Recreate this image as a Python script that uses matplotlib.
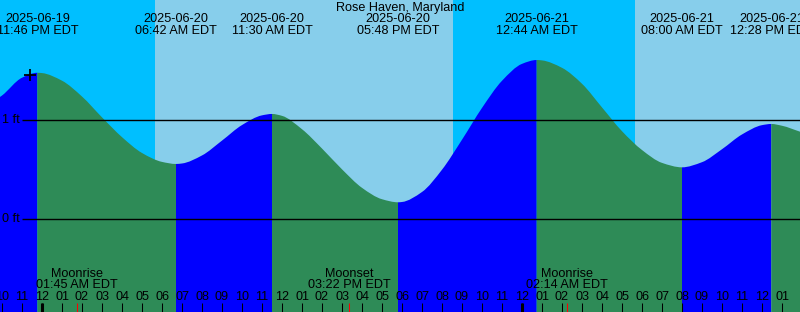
import matplotlib
matplotlib.use("Agg")
import matplotlib.pyplot as plt
import matplotlib.transforms as mtransforms
from matplotlib.path import Path
from matplotlib.patches import PathPatch
import numpy as np

plt.rcParams["font.family"] = ["Liberation Sans", "DejaVu Sans"]

# ---------------- data (hours relative to 2025-06-20 00:00 EDT) ----------------
title = "Rose Haven, Maryland"

tide_hours = [-2.1, -2.0, -1.0, -0.2333, 0, 1, 2, 3, 4, 5, 6, 6.7,
              7, 8, 9, 10, 11, 11.5,
              12, 13, 14, 15, 16, 17, 17.8,
              18, 19, 20, 21, 22, 23, 24, 24.7333,
              25, 26, 27, 28, 29, 30, 31, 32.0,
              33, 34, 35, 36, 36.4667, 37, 37.9]
tide_ft = [1.236, 1.25, 1.43, 1.48, 1.477, 1.40, 1.24, 1.03, 0.83, 0.67, 0.58, 0.559,
           0.564, 0.645, 0.795, 0.952, 1.050, 1.064,
           1.045, 0.91, 0.715, 0.505, 0.318, 0.203, 0.172,
           0.175, 0.276, 0.501, 0.804, 1.125, 1.399, 1.570, 1.609,
           1.605, 1.530, 1.369, 1.13, 0.89, 0.70, 0.57, 0.525,
           0.577, 0.708, 0.857, 0.951, 0.963, 0.945, 0.885]

event_hours = [-0.2333, 6.7, 11.5, 17.8, 24.7333, 32.0, 36.4667]
event_dates = ["2025-06-19", "2025-06-20", "2025-06-20", "2025-06-20",
               "2025-06-21", "2025-06-21", "2025-06-21"]
event_times = ["11:46 PM EDT", "06:42 AM EDT", "11:30 AM EDT", "05:48 PM EDT",
               "12:44 AM EDT", "08:00 AM EDT", "12:28 PM EDT"]

moon_hours = [1.75, 15.3667, 26.2333]
moon_names = ["Moonrise", "Moonset", "Moonrise"]
moon_times = ["01:45 AM EDT", "03:22 PM EDT", "02:14 AM EDT"]

# day/night boundaries
light_starts = [-2.1, 5.65, 20.55, 29.65]
light_ends = [5.65, 20.55, 29.65, 37.9]
light_is_day = [False, True, False, True]

hour_ticks = list(range(-2, 38))
hour_labels = ["10", "11", "12", "01", "02", "03", "04", "05", "06", "07", "08", "09",
               "10", "11", "12", "01", "02", "03", "04", "05", "06", "07", "08", "09",
               "10", "11", "12", "01", "02", "03", "04", "05", "06", "07", "08", "09",
               "10", "11", "12", "01"]
day_ticks = [0, 24]

ft_levels = [0, 1]
ft_labels = ["0 ft", "1 ft"]

now_hour = -0.6
now_ft = 1.46

# ---------------- styling ----------------
NIGHT = "#00BFFF"
DAY = "#87CEEB"
RISE = "#0000FF"
FALL = "#2E8B57"
FS = 9.1
W, H = 800, 312
X0, X1 = -2.1, 37.9
Y0, Y1 = -0.936, 2.215

fig = plt.figure(figsize=(W / 100, H / 100), dpi=100)
ax = fig.add_axes([0, 0, 1, 1])
ax.set_xlim(X0, X1)
ax.set_ylim(Y0, Y1)
ax.axis("off")

def fy(py):
    return 1 - py / H

blend = mtransforms.blended_transform_factory(ax.transData, ax.transAxes)

for s, e, d in zip(light_starts, light_ends, light_is_day):
    ax.axvspan(s, e, color=DAY if d else NIGHT, lw=0, zorder=0)

# monotone (Fritsch-Carlson) tangents so the curve is drawn smoothly through the points
tx = np.array(tide_hours, float)
ty = np.array(tide_ft, float)
hh = np.diff(tx)
dd = np.diff(ty) / hh
m = np.zeros_like(ty)
m[0], m[-1] = dd[0], dd[-1]
for k in range(1, len(ty) - 1):
    if dd[k - 1] * dd[k] <= 0:
        m[k] = 0.0
    else:
        w1 = 2 * hh[k] + hh[k - 1]
        w2 = hh[k] + 2 * hh[k - 1]
        m[k] = (w1 + w2) / (w1 / dd[k - 1] + w2 / dd[k])

bounds = [X0] + event_hours + [X1]
for i in range(len(bounds) - 1):
    a, b = bounds[i], bounds[i + 1]
    idx = [k for k in range(len(tx)) if a - 1e-6 <= tx[k] <= b + 1e-6]
    verts = [(a, Y0), (tx[idx[0]], ty[idx[0]])]
    codes = [Path.MOVETO, Path.LINETO]
    for k0, k1 in zip(idx[:-1], idx[1:]):
        h = tx[k1] - tx[k0]
        verts += [(tx[k0] + h / 3, ty[k0] + m[k0] * h / 3),
                  (tx[k1] - h / 3, ty[k1] - m[k1] * h / 3),
                  (tx[k1], ty[k1])]
        codes += [Path.CURVE4] * 3
    verts += [(b, Y0), (a, Y0)]
    codes += [Path.LINETO, Path.CLOSEPOLY]
    rising = ty[idx[-1]] > ty[idx[0]]
    ax.add_patch(PathPatch(Path(verts, codes), facecolor=RISE if rising else FALL,
                           edgecolor="none", lw=0, zorder=1))

# ft lines
for lv, lb in zip(ft_levels, ft_labels):
    ax.plot([-1.0, X1], [lv, lv], color="black", lw=1.0, zorder=3, solid_capstyle="butt")
    ax.text(X0 + 2 / 20, lv, lb, ha="left", va="center", fontsize=FS, color="black",
            zorder=4)

# now marker
ax.plot([now_hour], [now_ft], marker="+", ms=8, mew=1.3, color="black", zorder=5)

# title
ax.text(0.5, fy(7.5), title, transform=ax.transAxes, ha="center", va="center",
        fontsize=FS, color="black", zorder=6)

# tide event labels
for t, dte, tm in zip(event_hours, event_dates, event_times):
    ax.text(t, fy(19), dte, transform=blend, ha="center", va="center", fontsize=FS, zorder=6)
    ax.text(t, fy(31.5), tm, transform=blend, ha="center", va="center", fontsize=FS, zorder=6)

# moon labels
for t, nm, tm in zip(moon_hours, moon_names, moon_times):
    ax.text(t, fy(274), nm, transform=blend, ha="center", va="center", fontsize=FS, zorder=6)
    ax.text(t, fy(285.5), tm, transform=blend, ha="center", va="center", fontsize=FS, zorder=6)

# hour labels and ticks
for t, lb in zip(hour_ticks, hour_labels):
    ax.text(t, fy(296.5), lb, transform=blend, ha="center", va="center", fontsize=FS, zorder=6)
ax.vlines(hour_ticks, 0, fy(303), transform=blend, color="black", lw=0.75, zorder=6)
ax.vlines(day_ticks, 0, fy(303), transform=blend, color="black", lw=2.2, zorder=6)
ax.vlines(moon_hours, 0, fy(303), transform=blend, color="red", lw=0.75, zorder=7)

fig.savefig("out.png", dpi=100)
